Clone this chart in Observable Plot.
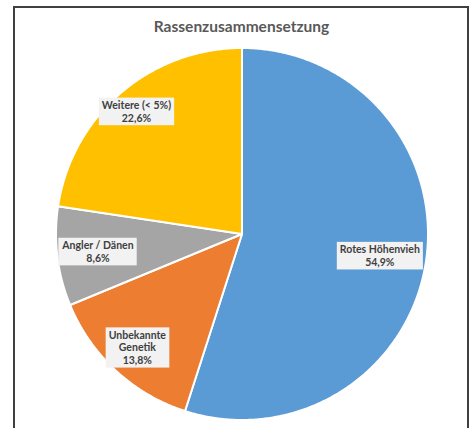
<!DOCTYPE html>
<html>
<head>
<meta charset="utf-8">
<script src="https://cdn.jsdelivr.net/npm/d3@7"></script>
<script src="https://cdn.jsdelivr.net/npm/@observablehq/plot@0.6"></script>
<style>
  html, body { margin: 0; padding: 0; background: #fff; width: 472px; height: 428px; overflow: hidden; }
  #frame { position: absolute; left: 13px; top: 6px; width: 452px; height: 440px; border: 2px solid #404040; box-sizing: content-box; }
  #chart { position: absolute; left: 0; top: 0; }
  #title { position: absolute; left: 0; top: 17px; width: 483px; text-align: center; font-family: Lato, "Liberation Sans", sans-serif; font-weight: bold; font-size: 15.5px; color: #595959; }
</style>
</head>
<body>
<div id="frame"></div>
<div id="chart"></div>
<div id="title">Rassenzusammensetzung</div>
<script>
// Data
const categories = ["Rotes Höhenvieh", "Unbekannte Genetik", "Angler / Dänen", "Weitere (< 5%)"];
const labelNames = ["Rotes Höhenvieh", "Unbekannte\nGenetik", "Angler / Dänen", "Weitere (< 5%)"];
const shares = [54.9, 13.8, 8.6, 22.6];
const colors = ["#5B9BD5", "#ED7D31", "#A5A5A5", "#FFC000"];
// Layout (label distance from center, relative to radius)
const labelRadius = [0.75, 0.83, 0.78, 0.87];

const rows = categories.map((c, i) => ({name: c, label: labelNames[i], value: shares[i], i}));
const arcs = d3.pie().sort(null).value(d => d.value).startAngle(0).endAngle(2 * Math.PI)(rows);

// polygon points in unit-circle data space
const pts = [];
for (const a of arcs) {
  const name = a.data.name;
  pts.push({name, x: 0, y: 0});
  const n = Math.max(2, Math.ceil((a.endAngle - a.startAngle) / (Math.PI / 360)));
  for (let k = 0; k <= n; k++) {
    const t = a.startAngle + (a.endAngle - a.startAngle) * k / n;
    pts.push({name, x: Math.sin(t), y: Math.cos(t)});
  }
}
const fmt = v => d3.format(".1f")(v).replace(".", ",") + "%";
const labels = arcs.map(a => {
  const m = (a.startAngle + a.endAngle) / 2;
  const r = labelRadius[a.data.i];
  return {x: r * Math.sin(m), y: r * Math.cos(m), text: a.data.label + "\n" + fmt(a.data.value)};
});

const plot = Plot.plot({
  width: 472,
  height: 428,
  marginLeft: 55.5,
  marginRight: 44.5,
  marginTop: 47.5,
  marginBottom: 8.5,
  x: {domain: [-1, 1], axis: null},
  y: {domain: [-1, 1], axis: null},
  color: {domain: categories, range: colors},
  style: {background: "transparent", overflow: "visible"},
  marks: [
    Plot.line(pts, {x: "x", y: "y", z: "name", fill: "name", stroke: "white", strokeWidth: 2, strokeLinejoin: "round", curve: "linear-closed"}),
    Plot.text(labels, {x: "x", y: "y", text: "text", fill: "#404040", fontSize: 10.5, fontWeight: "bold", fontFamily: "Lato, 'Liberation Sans', sans-serif", lineHeight: 1.2, className: "slice-labels"})
  ]
});
document.getElementById("chart").appendChild(plot);

// label background boxes
const ns = "http://www.w3.org/2000/svg";
plot.querySelectorAll("g[aria-label='text'] text").forEach(t => {
  const b = t.getBBox();
  const r = document.createElementNS(ns, "rect");
  r.setAttribute("x", b.x - 3);
  r.setAttribute("y", b.y - 1.5);
  r.setAttribute("width", b.width + 6);
  r.setAttribute("height", b.height + 3);
  r.setAttribute("fill", "#F2F2F2");
  const tr = t.getAttribute("transform");
  if (tr) r.setAttribute("transform", tr);
  t.parentNode.insertBefore(r, t);
});
</script>
</body>
</html>
